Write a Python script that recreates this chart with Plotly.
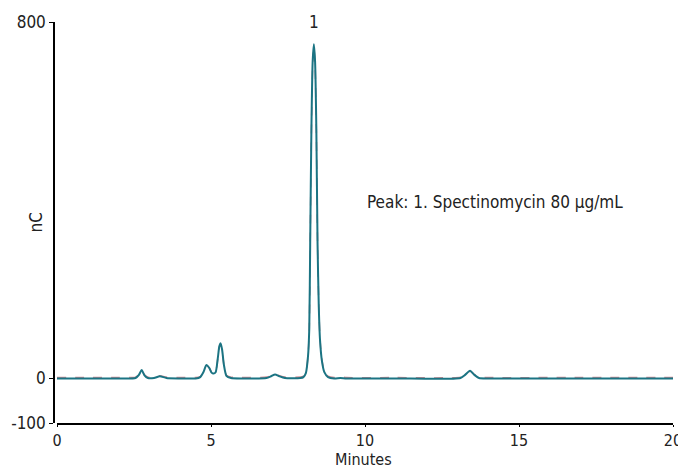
import plotly.graph_objects as go

# Chromatogram (time in minutes, signal in nC)
time_min = [0.0, 1.0, 2.0, 2.55, 2.66, 2.75, 2.84, 2.95, 3.15, 3.34,
            3.55, 4.0, 4.5, 4.65, 4.76, 4.85, 4.94, 5.02, 5.08, 5.15,
            5.22, 5.27, 5.31, 5.36, 5.42, 5.5, 5.65, 6.0, 6.8, 6.95,
            7.08, 7.22, 7.4, 7.9,
            8.0, 8.08, 8.15, 8.19, 8.22, 8.26, 8.3, 8.34, 8.38, 8.42,
            8.46, 8.5, 8.54, 8.6, 8.68, 8.8, 9.0,
            9.2, 9.4, 11.0, 13.1, 13.25, 13.41, 13.55, 13.7, 14.0, 17.0, 20.0]
signal_a = [0, 0, 0, 1, 8, 19, 7, 1, 1, 5,
            1, 0, 0, 3, 15, 30, 24, 13, 11, 14,
            45, 72, 79, 65, 30, 6, 1, 0, 1, 5,
            9, 5, 1, 1,
            3, 12, 50, 110, 300, 560, 710, 750, 710, 560,
            300, 160, 86, 40, 14, 3, 0,
            1, 0, 0, 1, 8, 17, 8, 1, 0, 0, 0]
signal_b = [2, 2, 2, 3, 9, 18, 8, 3, 3, 6,
            3, 2, 2, 4, 15, 29, 24, 14, 12, 15,
            44, 70, 77, 64, 30, 7, 3, 2, 3, 6,
            9, 6, 3, 3,
            5, 13, 50, 108, 296, 552, 702, 742, 704, 556,
            300, 162, 88, 42, 16, 5, 2,
            4, 2, 2, 3, 9, 16, 9, 3, 2, 2, 2]

x_ticks = [0, 5, 10, 15, 20]
x_tick_labels = ["0", "5", "10", "15", "20"]
y_ticks = [-100, 0, 800]
y_tick_labels = ["-100", "0", "800"]
x_title = "Minutes"
y_title = "nC"
peak_label = "1"
peak_time = 8.34
peak_height = 750
note_text = "Peak: 1. Spectinomycin 80 µg/mL"

FONT = "DejaVu Sans Condensed, Liberation Sans Narrow, Roboto, sans-serif"

fig = go.Figure()
fig.add_trace(go.Scatter(x=time_min, y=signal_b, mode="lines",
                         line=dict(color="#cf8b92", width=1.5, dash="dash", shape="spline", smoothing=0.6),
                         hoverinfo="skip", showlegend=False))
fig.add_trace(go.Scatter(x=time_min, y=signal_a, mode="lines",
                         line=dict(color="#1b7483", width=2, shape="spline", smoothing=0.6),
                         showlegend=False))

fig.add_annotation(x=peak_time, y=peak_height, text=peak_label, showarrow=False,
                   yshift=22, font=dict(size=17, color="#222"))
fig.add_annotation(x=10.0, y=395, text=note_text, showarrow=False, xanchor="left",
                   font=dict(size=17, color="#222"))
fig.add_annotation(xref="paper", yref="paper", x=0, y=0.5, xshift=-19,
                   xanchor="center", yanchor="middle", text=y_title,
                   textangle=-90, showarrow=False, font=dict(size=17, color="#222"))
fig.add_annotation(xref="paper", yref="paper", x=0.5, y=0, yshift=-36.5, borderpad=0,
                   xanchor="center", yanchor="middle", text=x_title,
                   showarrow=False, font=dict(size=16, color="#222"))

fig.update_layout(
    width=678, height=461,
    margin=dict(l=46, r=13, t=14, b=46),
    paper_bgcolor="white", plot_bgcolor="white",
    font=dict(family=FONT, size=17, color="#222"),
    xaxis=dict(range=[0, 20], tickvals=x_ticks, ticktext=x_tick_labels, domain=[3 / 619, 1],
               showline=True, linecolor="black", linewidth=1.5,
               ticks="outside", ticklen=2, tickcolor="black", tickfont=dict(size=16),
               showgrid=False, zeroline=False, automargin=False),
    yaxis=dict(range=[-100, 800], tickvals=y_ticks, ticktext=y_tick_labels,
               anchor="free", position=0,
               showline=True, linecolor="black", linewidth=1.5,
               ticks="outside", ticklen=4, tickcolor="black",
               showgrid=False, zeroline=False, automargin=False),
)

fig.write_html("out.html")
